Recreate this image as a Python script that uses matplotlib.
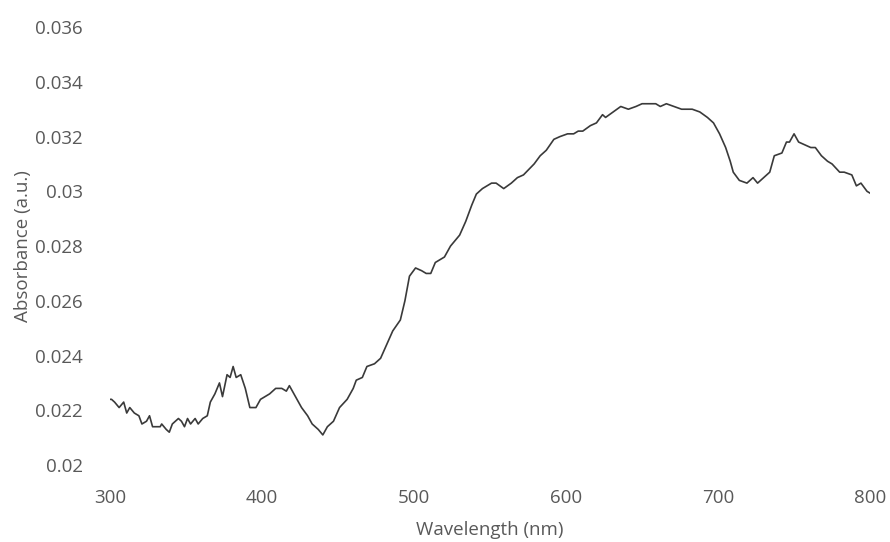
import numpy as np
from matplotlib import pyplot as plt

# 读图得到的光谱数据 (nm, a.u.)
wavelength = [
    300, 301, 303, 306, 309, 311, 313, 316, 319, 321, 324, 326, 328, 330, 333, 334,
    337, 339, 341, 345, 347, 349, 351, 353, 356, 358, 361, 364, 366, 369, 372, 374,
    377, 379, 381, 383, 386, 389, 392, 396, 399, 402, 405, 409, 413, 416, 418, 421,
    426, 430, 433, 437, 440, 443, 447, 451, 456, 460, 462, 466, 469, 474, 478, 482,
    486, 491, 494, 497, 501, 505, 508, 511, 514, 520, 524, 530, 534, 538, 541, 545,
    551, 554, 559, 564, 568, 572, 579, 583, 587, 592, 596, 601, 605, 608, 611, 616,
    620, 624, 626, 631, 636, 641, 646, 650, 655, 659, 662, 666, 671, 676, 683, 688,
    693, 697, 701, 705, 708, 710, 714, 719, 723, 726, 730, 734, 737, 742, 745, 747,
    750, 753, 757, 761, 764, 768, 772, 775, 780, 783, 788, 791, 794, 798, 801,
]
absorbance = [
    0.0224, 0.0224, 0.0223, 0.0221, 0.0223, 0.0219, 0.0221, 0.0219, 0.0218, 0.0215,
    0.0216, 0.0218, 0.0214, 0.0214, 0.0214, 0.0215, 0.0213, 0.0212, 0.0215, 0.0217,
    0.0216, 0.0214, 0.0217, 0.0215, 0.0217, 0.0215, 0.0217, 0.0218, 0.0223, 0.0226,
    0.0230, 0.0225, 0.0233, 0.0232, 0.0236, 0.0232, 0.0233, 0.0228, 0.0221, 0.0221,
    0.0224, 0.0225, 0.0226, 0.0228, 0.0228, 0.0227, 0.0229, 0.0226, 0.0221, 0.0218,
    0.0215, 0.0213, 0.0211, 0.0214, 0.0216, 0.0221, 0.0224, 0.0228, 0.0231, 0.0232,
    0.0236, 0.0237, 0.0239, 0.0244, 0.0249, 0.0253, 0.0260, 0.0269, 0.0272, 0.0271,
    0.0270, 0.0270, 0.0274, 0.0276, 0.0280, 0.0284, 0.0289, 0.0295, 0.0299, 0.0301,
    0.0303, 0.0303, 0.0301, 0.0303, 0.0305, 0.0306, 0.0310, 0.0313, 0.0315, 0.0319,
    0.0320, 0.0321, 0.0321, 0.0322, 0.0322, 0.0324, 0.0325, 0.0328, 0.0327, 0.0329,
    0.0331, 0.0330, 0.0331, 0.0332, 0.0332, 0.0332, 0.0331, 0.0332, 0.0331, 0.0330,
    0.0330, 0.0329, 0.0327, 0.0325, 0.0321, 0.0316, 0.0311, 0.0307, 0.0304, 0.0303,
    0.0305, 0.0303, 0.0305, 0.0307, 0.0313, 0.0314, 0.0318, 0.0318, 0.0321, 0.0318,
    0.0317, 0.0316, 0.0316, 0.0313, 0.0311, 0.0310, 0.0307, 0.0307, 0.0306, 0.0302,
    0.0303, 0.0300, 0.0299,
]

x_ticks = [300, 400, 500, 600, 700, 800]
y_ticks = [0.02, 0.022, 0.024, 0.026, 0.028, 0.03, 0.032, 0.034, 0.036]
y_tick_labels = ['0.02', '0.022', '0.024', '0.026', '0.028', '0.03', '0.032', '0.034', '0.036']

plt.rcParams['font.family'] = ['Open Sans', 'DejaVu Sans']
text_color = '#595959'
font_size = 13.5

fig = plt.figure(figsize=(8.9, 5.42), dpi=100)
ax = fig.add_axes([0.1236, 0.142, 0.854, 0.808])
ax.plot(wavelength, absorbance, color='#3a3a3a', linewidth=1.2)

ax.set_xlim(300, 800)
ax.set_ylim(0.02, 0.036)
ax.set_xticks(x_ticks)
ax.set_yticks(y_ticks)
ax.set_yticklabels(y_tick_labels)
ax.tick_params(length=0, labelsize=font_size, labelcolor=text_color)
ax.tick_params(axis='x', pad=17)
ax.tick_params(axis='y', pad=19.5)
for s in ax.spines.values():
    s.set_visible(False)

ax.set_xlabel('Wavelength (nm)', fontsize=font_size, color=text_color, labelpad=10)
ax.set_ylabel('Absorbance (a.u.)', fontsize=font_size, color=text_color, labelpad=2.5)

plt.savefig('out.png')
